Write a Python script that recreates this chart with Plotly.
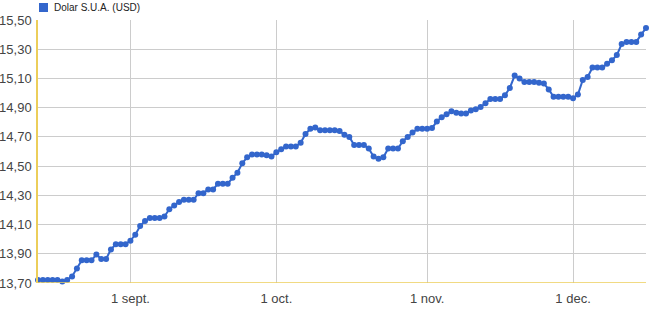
import pandas as pd
import plotly.graph_objects as go

series_name = "Dolar S.U.A. (USD)"
start_date = "2014-08-13"
usd_values = [
    13.72, 13.72, 13.72, 13.72, 13.72, 13.71, 13.72, 13.745, 13.80, 13.855,
    13.855, 13.855, 13.895, 13.865, 13.865, 13.93, 13.965, 13.965, 13.965, 13.99,
    14.03, 14.09, 14.125, 14.145, 14.145, 14.145, 14.155, 14.205, 14.23, 14.255,
    14.27, 14.27, 14.27, 14.315, 14.315, 14.34, 14.34, 14.38, 14.38, 14.38,
    14.42, 14.455, 14.52, 14.56, 14.58, 14.58, 14.58, 14.575, 14.565, 14.595,
    14.615, 14.635, 14.635, 14.635, 14.66, 14.72, 14.755, 14.765, 14.745, 14.745,
    14.745, 14.745, 14.74, 14.715, 14.70, 14.645, 14.645, 14.645, 14.62, 14.565,
    14.55, 14.56, 14.62, 14.62, 14.62, 14.67, 14.70, 14.73, 14.755, 14.755,
    14.755, 14.76, 14.805, 14.835, 14.855, 14.875, 14.865, 14.86, 14.86, 14.88,
    14.89, 14.905, 14.93, 14.96, 14.96, 14.96, 14.985, 15.035, 15.12, 15.10,
    15.075, 15.075, 15.075, 15.07, 15.065, 15.025, 14.975, 14.975, 14.975, 14.975,
    14.965, 14.99, 15.09, 15.11, 15.175, 15.175, 15.175, 15.20, 15.225, 15.26,
    15.335, 15.35, 15.35, 15.35, 15.40, 15.445,
]
dates = pd.date_range(start_date, periods=len(usd_values), freq="D")

y_tick_values = [13.70, 13.90, 14.10, 14.30, 14.50, 14.70, 14.90, 15.10, 15.30, 15.50]
y_tick_labels = ["13,70", "13,90", "14,10", "14,30", "14,50", "14,70", "14,90", "15,10", "15,30", "15,50"]
x_tick_values = ["2014-09-01", "2014-10-01", "2014-11-01", "2014-12-01"]
x_tick_labels = ["1 sept.", "1 oct.", "1 nov.", "1 dec."]

LINE = "#3366cc"
AXIS = "#ecce5a"
FONT = "Arial, Liberation Sans, sans-serif"

fig = go.Figure()
fig.add_trace(go.Scatter(
    x=dates, y=usd_values, mode="lines+markers", name=series_name,
    line=dict(color=LINE, width=2),
    marker=dict(color=LINE, size=6),
    cliponaxis=False, showlegend=False,
))

fig.update_layout(
    width=656, height=311,
    margin=dict(l=38, r=10, t=20, b=28, pad=0),
    paper_bgcolor="white", plot_bgcolor="white",
    font=dict(family=FONT, size=13, color="#444"),
    xaxis=dict(
        range=[dates[0], dates[-1]],
        tickvals=x_tick_values, ticktext=x_tick_labels,
        showgrid=True, gridcolor="#cccccc", gridwidth=1,
        zeroline=False, showline=False, ticks="", automargin=False,
        ticklabelstandoff=6,
        tickfont=dict(size=13, color="#444"),
    ),
    yaxis=dict(
        range=[13.70, 15.50],
        tickvals=y_tick_values, ticktext=y_tick_labels,
        showgrid=True, gridcolor="#cccccc", gridwidth=1,
        zeroline=False, showline=True, linecolor=AXIS, linewidth=1.5,
        ticks="", automargin=False, ticklabelstandoff=2,
        tickfont=dict(size=13, color="#444"),
    ),
    shapes=[
        dict(type="line", xref="paper", yref="y", x0=0, x1=1, y0=13.70, y1=13.70,
             line=dict(color=AXIS, width=1.5), layer="above"),
        dict(type="rect", xref="paper", yref="paper",
             x0=(39 - 38) / 608, x1=(48 - 38) / 608,
             y0=(283 - 12) / 263, y1=(283 - 3) / 263,
             fillcolor=LINE, line=dict(width=0)),
    ],
    annotations=[
        dict(text=series_name, xref="paper", yref="paper",
             x=(52 - 38) / 608, y=(283 - 7.5) / 263,
             xanchor="left", yanchor="middle", showarrow=False,
             font=dict(family=FONT, size=10, color="#222")),
    ],
)

fig.write_html("out.html")
